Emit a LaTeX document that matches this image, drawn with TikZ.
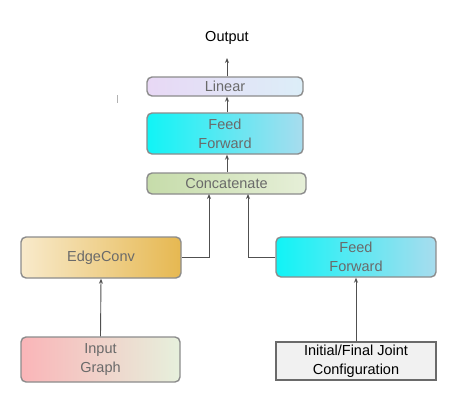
\documentclass[tikz,border=0pt]{standalone}
\usepackage{fontspec}
\setmainfont{Liberation Sans}
\usetikzlibrary{arrows.meta}
\definecolor{bordergray}{HTML}{8C8C8C}
\definecolor{txtgray}{HTML}{6A6A6A}
\definecolor{arrowgray}{HTML}{505050}
\definecolor{linL}{HTML}{E8D8F5}
\definecolor{linR}{HTML}{DCEEF8}
\definecolor{ffL}{HTML}{10F4F6}
\definecolor{ffR}{HTML}{A8DCEE}
\definecolor{catL}{HTML}{C6DCAA}
\definecolor{catR}{HTML}{E6EFD8}
\definecolor{ecL}{HTML}{F8EACB}
\definecolor{ecR}{HTML}{E6B851}
\definecolor{igL}{HTML}{FAB5B8}
\definecolor{igR}{HTML}{E6F0DC}
\definecolor{jcfill}{HTML}{F1F1F1}
\definecolor{jcborder}{HTML}{6A6A6A}
\tikzset{
  txt/.style={font=\fontsize{14.5}{19}\selectfont},
  blk/.style={txt, draw=bordergray, line width=1.4pt, rounded corners=5pt, text=txtgray, align=center, inner sep=0pt},
  conn/.style={draw=arrowgray, line width=0.9pt, -{Stealth[length=5pt,width=4pt]}},
}
\begin{document}
\begin{tikzpicture}[x=1pt,y=-1pt]
\useasboundingbox (0,0) rectangle (461,410);
\fill[white] (0,0) rectangle (461,410);
% nodes
\node[txt] (out) at (227,38) {Output};
\node[blk, minimum width=156pt, minimum height=19pt, left color=linL, right color=linR] (lin) at (225,86.5) {Linear};
\node[blk, minimum width=156pt, minimum height=41pt, left color=ffL, right color=ffR] (ff1) at (225,133.5) {Feed\\Forward};
\node[blk, minimum width=159pt, minimum height=21pt, left color=catL, right color=catR] (cat) at (226.5,183.5) {Concatenate};
\node[blk, minimum width=160pt, minimum height=41pt, left color=ecL, right color=ecR] (ec) at (101,257.5) {EdgeConv};
\node[blk, minimum width=159pt, minimum height=45pt, left color=igL, right color=igR] (ig) at (100.5,359.5) {Input\\Graph};
\node[blk, minimum width=160pt, minimum height=40pt, left color=ffL, right color=ffR] (ff2) at (356,257) {Feed\\Forward};
\node[txt, draw=jcborder, line width=1.6pt, fill=jcfill, text=black, align=center, inner sep=0pt, minimum width=160pt, minimum height=38pt] (jc) at (356,361) {Initial/Final Joint\\Configuration};
% stray mark
\draw[gray!60, line width=0.8pt] (117,95) -- (117,103);
% connectors
\coordinate (c1) at (209,194);
\coordinate (c2) at (248,194);
\coordinate (o1) at (227,58);
\coordinate (spine) at (227,0);
\draw[conn] (ig.north) -- (ec.south);
\draw[conn] (jc.north) -- (ff2.south);
\draw[conn] (ec.east) -- (c1 |- ec.east) -- (c1);
\draw[conn] (ff2.west) -- (c2 |- ff2.west) -- (c2);
\draw[conn] (spine |- cat.north) -- (spine |- ff1.south);
\draw[conn] (spine |- ff1.north) -- (spine |- lin.south);
\draw[conn] (spine |- lin.north) -- (o1);
\end{tikzpicture}
\end{document}
